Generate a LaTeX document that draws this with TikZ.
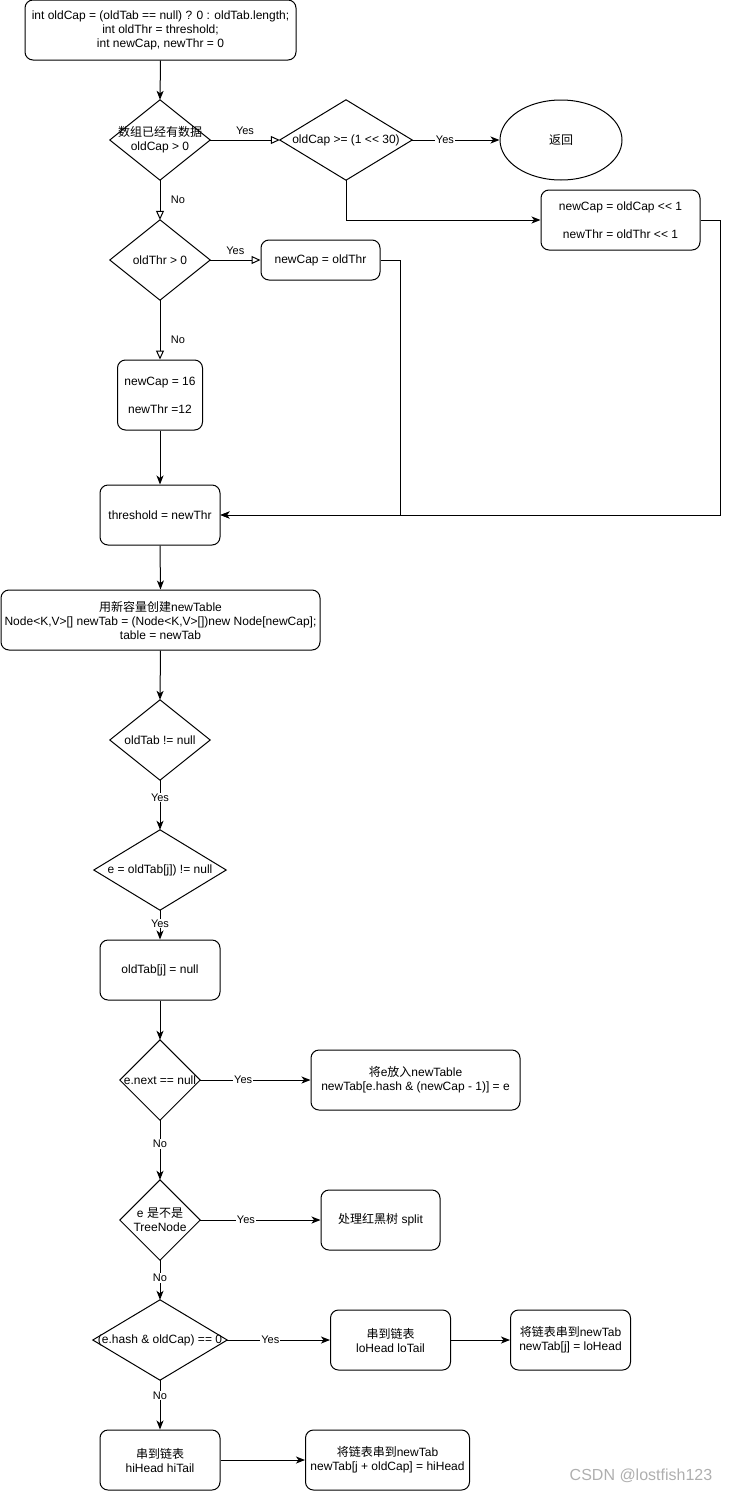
\documentclass[tikz,border=0pt]{standalone}
\usepackage{fontspec}
\setmainfont{Liberation Sans}
\newfontfamily\cjk{Noto Sans CJK SC}
\usetikzlibrary{arrows.meta,shapes.geometric}
\definecolor{wmgray}{RGB}{175,175,175}
\tikzset{
  every node/.style={font=\fontsize{12}{14}\selectfont},
  proc/.style={draw, rounded corners=8pt, align=center, line width=1pt, inner sep=2pt},
  dec/.style={align=center, inner sep=0pt},
  lbl/.style={font=\fontsize{11}{13}\selectfont, fill=white, inner sep=1pt},
  conn/.style={draw, line width=1pt, -{Stealth[length=9pt,width=7pt,inset=2.5pt]}},
  oconn/.style={draw, line width=1pt, -{Triangle[open,length=9pt,width=8pt,fill=white]}},
}
\begin{document}
\begin{tikzpicture}[x=1pt,y=-1pt]
\useasboundingbox (0,0) rectangle (729,1491);
% nodes
\node[proc, minimum width=271pt, minimum height=60pt] (top) at (160.5,30)
  {int oldCap = (oldTab == null) ? 0 : oldTab.length;\\int oldThr = threshold;\\int newCap, newThr = 0};
\node[dec, minimum width=100pt, minimum height=80pt] (d1) at (160,140)
  {{\cjk 数组已经有数据}\\oldCap > 0};
\node[dec, minimum width=132pt, minimum height=80pt] (d2) at (346,140) {oldCap >= (1 <{}< 30)};
\node[ellipse, draw, line width=1pt, minimum width=122pt, minimum height=80pt] (ret) at (561,140) {\cjk 返回};
\node[proc, minimum width=159pt, minimum height=60pt] (nc1) at (620.5,220)
  {newCap = oldCap <{}< 1\\[14pt]newThr = oldThr <{}< 1};
\node[dec, minimum width=100pt, minimum height=80pt] (d3) at (160,260) {oldThr > 0};
\node[proc, minimum width=119pt, minimum height=40pt] (nco) at (320.5,260) {newCap = oldThr};
\node[proc, minimum width=85pt, minimum height=70pt] (b16) at (160,395)
  {newCap = 16\\[14pt]newThr =12};
\node[proc, minimum width=120pt, minimum height=60pt] (thr) at (160,515) {threshold = newThr};
\node[proc, minimum width=319pt, minimum height=60pt] (nt) at (160.5,620)
  {{\cjk 用新容量创建}newTable\\Node<K,V>[] newTab = (Node<K,V>[])new Node[newCap];\\table = newTab};
\node[dec, minimum width=100pt, minimum height=80pt] (d5) at (160,740) {oldTab != null};
\node[dec, minimum width=132pt, minimum height=80pt] (d6) at (160,870) {e = oldTab[j]) != null};
\node[proc, minimum width=120pt, minimum height=60pt] (b7) at (160,970) {oldTab[j] = null};
\node[dec, minimum width=80pt, minimum height=80pt] (d8) at (160,1080) {e.next == null};
\node[proc, minimum width=209pt, minimum height=60pt] (b9) at (415.5,1080)
  {{\cjk 将}e{\cjk 放入}newTable\\newTab[e.hash \& (newCap - 1)] = e};
\node[dec, minimum width=80pt, minimum height=80pt] (d10) at (160,1220) {e {\cjk 是不是}\\TreeNode};
\node[proc, minimum width=119pt, minimum height=60pt] (sp) at (380.5,1220) {{\cjk 处理红黑树} split};
\node[dec, minimum width=134pt, minimum height=80pt] (d11) at (160,1340) {(e.hash \& oldCap) == 0};
\node[proc, minimum width=120pt, minimum height=60pt] (lo) at (390.5,1340) {{\cjk 串到链表}\\loHead loTail};
\node[proc, minimum width=120pt, minimum height=60pt] (lo2) at (570.5,1340) {{\cjk 将链表串到}newTab\\newTab[j] = loHead};
\node[proc, minimum width=120pt, minimum height=60pt] (hi) at (160,1460) {{\cjk 串到链表}\\hiHead hiTail};
\node[proc, minimum width=164pt, minimum height=60pt] (hi2) at (387.5,1460) {{\cjk 将链表串到}newTab\\newTab[j + oldCap] = hiHead};
\node[font=\fontsize{16}{18}\selectfont, text=wmgray] (wm) at (641,1476) {CSDN @lostfish123};
% diamonds
\foreach \n in {d1,d2,d3,d5,d6,d8,d10,d11}
  \draw[line width=1pt] (\n.north) -- (\n.east) -- (\n.south) -- (\n.west) -- cycle;
% connectors
\path[conn] (top.south) -- (d1.north);
\path[oconn] (d1.east) -- node[pos=0.5, above=2pt, font=\fontsize{11}{13}\selectfont] {Yes} (d2.west);
\path[conn] (d2.east) -- node[lbl, pos=0.375] {Yes} (ret.west);
\path[conn] (d2.south) |- (nc1.west);
\path[conn] (nc1.east) -- ([xshift=20pt]nc1.east) |- (thr.east);
\path[oconn] (d1.south) -- node[pos=0.5, right=7pt, font=\fontsize{11}{13}\selectfont] {No} (d3.north);
\path[oconn] (d3.east) -- node[pos=0.5, above=2pt, font=\fontsize{11}{13}\selectfont] {Yes} (nco.west);
\path[conn] (nco.east) -- ([xshift=20pt]nco.east) |- (thr.east);
\path[oconn] (d3.south) -- node[pos=0.67, right=7pt, font=\fontsize{11}{13}\selectfont] {No} (b16.north);
\path[conn] (b16.south) -- (thr.north);
\path[conn] (thr.south) -- (nt.north);
\path[conn] (nt.south) -- (d5.north);
\path[conn] (d5.south) -- node[lbl, pos=0.35] {Yes} (d6.north);
\path[conn] (d6.south) -- node[lbl, pos=0.45] {Yes} (b7.north);
\path[conn] (b7.south) -- (d8.north);
\path[conn] (d8.east) -- node[lbl, pos=0.39] {Yes} (b9.west);
\path[conn] (d8.south) -- node[lbl, pos=0.4] {No} (d10.north);
\path[conn] (d10.east) -- node[lbl, pos=0.38] {Yes} (sp.west);
\path[conn] (d10.south) -- node[lbl, pos=0.45] {No} (d11.north);
\path[conn] (d11.east) -- node[lbl, pos=0.42] {Yes} (lo.west);
\path[conn] (lo.east) -- (lo2.west);
\path[conn] (d11.south) -- node[lbl, pos=0.31] {No} (hi.north);
\path[conn] (hi.east) -- (hi2.west);
\end{tikzpicture}
\end{document}
